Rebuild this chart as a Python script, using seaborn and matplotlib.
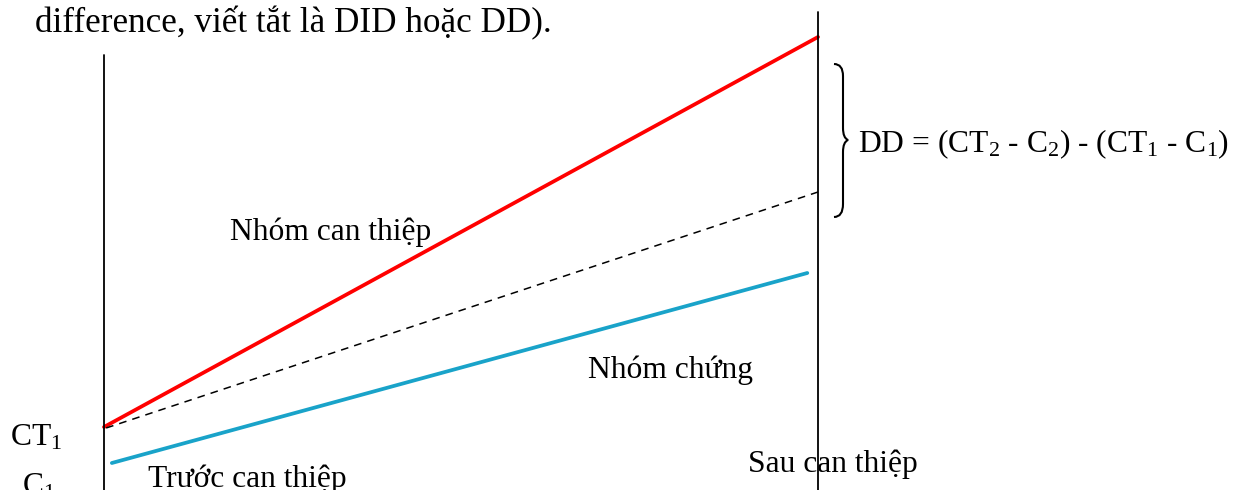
import numpy as np
import pandas as pd
import matplotlib
matplotlib.use("Agg")
import matplotlib.pyplot as plt
import seaborn as sns
from matplotlib.path import Path
from matplotlib.patches import PathPatch

# --- data (time 0 = before, 1 = after; outcome in arbitrary units) ---
treat_t = [0.0, 1.0]
treat_y = [0.63, 4.53]          # CT1 -> CT2
counter_t = [0.003, 1.0]
counter_y = [0.62, 2.98]        # CT1 + control trend
control_t = [0.011, 0.985]
control_y = [0.27, 2.17]        # C1 -> C2

group_labels = ["Nhóm can thiệp", "Nhóm chứng"]
period_labels = ["Trước can thiệp", "Sau can thiệp"]
dd_label = r"DD = (CT$\mathregular{_2}$ - C$\mathregular{_2}$) - (CT$\mathregular{_1}$ - C$\mathregular{_1}$)"
header = "difference, viết tắt là DID hoặc DD)."

# --- figure setup ---
sns.set_theme(style="white")
plt.rcParams["font.family"] = ["Liberation Serif", "DejaVu Serif"]
plt.rcParams["mathtext.fontset"] = "custom"
plt.rcParams["mathtext.rm"] = "Liberation Serif"

W, H = 1245, 490
fig = plt.figure(figsize=(W / 100, H / 100), dpi=100)
ax = fig.add_axes([0, 0, 1, 1])

# pixel 104 -> t=0, pixel 818 -> t=1 ; pixel row 490 -> y=0, 100 px per unit
x0, span = 104, 714
ax.set_xlim(-x0 / span, (W - x0) / span)
ax.set_ylim(0, H / 100)
ax.axis("off")

df = pd.concat([
    pd.DataFrame({"t": treat_t, "y": treat_y, "s": "treat"}),
    pd.DataFrame({"t": counter_t, "y": counter_y, "s": "counter"}),
    pd.DataFrame({"t": control_t, "y": control_y, "s": "control"}),
])

sns.lineplot(data=df[df.s == "treat"], x="t", y="y", ax=ax, color="#ff0000", lw=2.7)
sns.lineplot(data=df[df.s == "counter"], x="t", y="y", ax=ax, color="black", lw=1.1,
             dashes=False, linestyle=(0, (5, 4)))
sns.lineplot(data=df[df.s == "control"], x="t", y="y", ax=ax, color="#19a3c9", lw=2.7)

# period separators
ax.plot([0, 0], [0, 4.35], color="black", lw=1.3)
ax.plot([1, 1], [0, 4.78], color="black", lw=1.3)

# curly brace next to the after line
def px(x, y):
    return ((x - x0) / span, (H - y) / 100)

verts = [px(834, 64), px(843, 64), px(843, 76), px(843, 80),
         px(843, 128), px(843, 138), px(848, 140),
         px(843, 142), px(843, 152), px(843, 200),
         px(843, 204), px(843, 217), px(834, 217)]
codes = [Path.MOVETO, Path.CURVE3, Path.CURVE3, Path.LINETO,
         Path.LINETO, Path.CURVE3, Path.CURVE3,
         Path.CURVE3, Path.CURVE3, Path.LINETO,
         Path.LINETO, Path.CURVE3, Path.CURVE3]
ax.add_patch(PathPatch(Path(verts, codes), fill=False, lw=1.5, color="black"))

def label(x, y, s, fs=22.7, **kw):
    fig.text(x / W, 1 - y / H, s, fontsize=fs, va="baseline", ha="left",
             color="black", **kw)

label(35, 32, header, fs=25.3)
label(230, 240, group_labels[0])
label(588, 378, group_labels[1])
label(858, 152, dd_label)
label(10, 445, r"CT$\mathregular{_1}$")
label(22, 494, r"C$\mathregular{_1}$")
label(148, 487, period_labels[0])
label(748, 472, period_labels[1])

fig.savefig("out.png", dpi=100)
